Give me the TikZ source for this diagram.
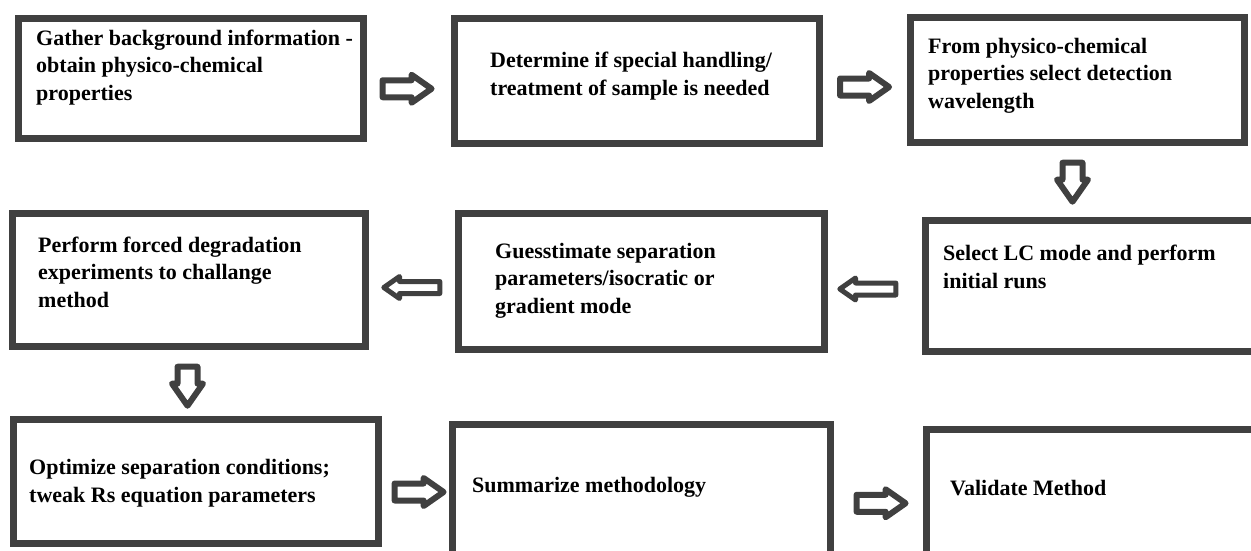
\documentclass[tikz,border=0pt]{standalone}
\usepackage{fontspec}
\setmainfont{Liberation Serif}
\usetikzlibrary{shapes.arrows}
\definecolor{boxgray}{RGB}{64,64,64}
\tikzset{
  box/.style 2 args={draw=boxgray, line width=7pt, inner sep=0pt,
    minimum width=#1, minimum height=#2},
  txt/.style={anchor=base west, align=left, inner sep=0pt,
    font=\bfseries\fontsize{22}{27.5}\selectfont},
  arr/.style={single arrow, draw=boxgray, fill=white, line join=round,
    single arrow tip angle=70},
  rarr/.style={arr, line width=6pt, inner sep=5.5pt,
    single arrow head extend=5.5pt, minimum height=49pt},
  larr/.style={arr, line width=5pt, inner sep=3.5pt,
    single arrow head extend=5pt, minimum height=56pt, rotate=180},
  darr/.style={arr, line width=6pt, inner sep=7pt,
    single arrow head extend=5.5pt, minimum height=39pt, rotate=-90}
}
\begin{document}
\begin{tikzpicture}[x=1pt,y=-1pt]
  \useasboundingbox (0,0) rectangle (1251,550);
  % boxes
  \node[box={345pt}{120pt}] (b1) at (191,78.5) {};
  \node[box={365pt}{125pt}] (b2) at (637,81) {};
  \node[box={334pt}{125pt}] (b3) at (1077.5,80) {};
  \node[box={353pt}{133pt}] (b4) at (189,280) {};
  \node[box={366pt}{136pt}] (b5) at (641.5,281.5) {};
  \node[box={361pt}{131pt}] (b6) at (1106,286) {};
  \node[box={365pt}{124pt}] (b7) at (196,481.5) {};
  \node[box={378pt}{162pt}] (b8) at (641.5,505.5) {};
  \node[box={360pt}{157pt}] (b9) at (1106.5,508) {};
  % texts (base = last line)
  \node[txt] (t1) at (36,100) {Gather background information -\\obtain physico-chemical\\properties};
  \node[txt] (t2) at (490,95) {Determine if special handling/\\treatment of sample is needed};
  \node[txt] (t3) at (928,108) {From physico-chemical\\properties select detection\\wavelength};
  \node[txt] (t4) at (38,307) {Perform forced degradation\\experiments to challange\\method};
  \node[txt] (t5) at (495,313) {Guesstimate separation\\parameters/isocratic or\\gradient mode};
  \node[txt] (t6) at (943,288) {Select LC mode and perform\\initial runs};
  \node[txt] (t7) at (29,502) {Optimize separation conditions;\\tweak Rs equation parameters};
  \node[txt] (t8) at (472,492) {Summarize methodology};
  \node[txt] (t9) at (950,495) {Validate Method};
  % arrows
  \path (b1.east) -- node[rarr, xshift=-8pt, yshift=-9pt] (a1) {} (b2.west);
  \path (b2.east) -- node[rarr, xshift=-6.5pt, yshift=-6.5pt] (a2) {} (b3.west);
  \path (b3.south) -- node[xshift=-5pt, yshift=6.4pt, darr] (a3) {} (b3.south |- b6.north);
  \path (b6.west) -- node[xshift=-2.9pt, yshift=-5.25pt, larr] (a4) {} (b5.east);
  \path (b5.west) -- node[xshift=4.1pt, yshift=-6.75pt, larr] (a5) {} (b4.east);
  \path (b4.south) -- node[xshift=-1.5pt, yshift=3.9pt, darr] (a6) {} (b4.south |- b7.north);
  \path (b7.east) -- node[rarr, xshift=-2.5pt, yshift=1.5pt] (a7) {} (b8.west);
  \path (b8.east) -- node[rarr, xshift=-3.5pt, yshift=3.5pt] (a8) {} (b9.west);
\end{tikzpicture}
\end{document}
